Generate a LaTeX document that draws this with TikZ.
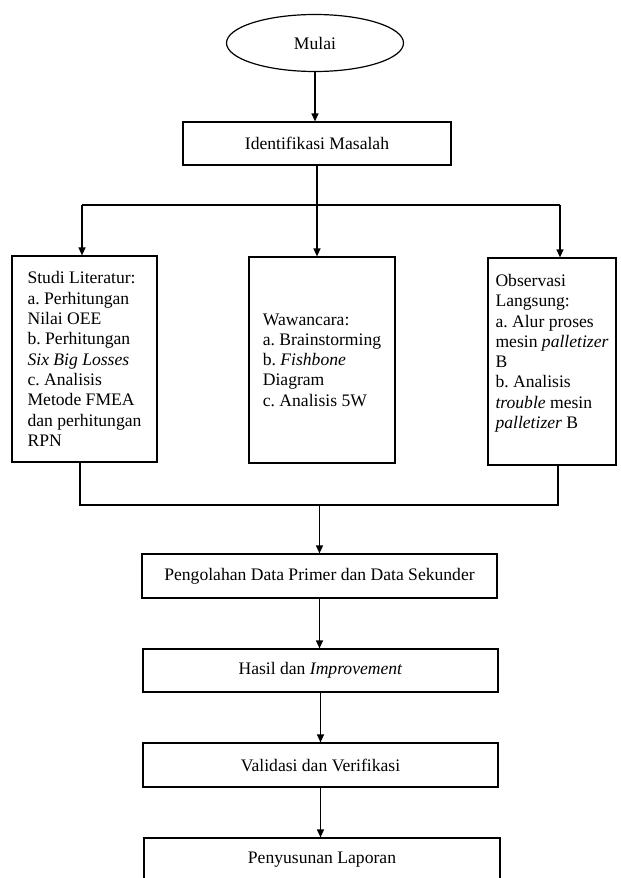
\documentclass[tikz,border=0pt]{standalone}
\usepackage{fontspec}
\setmainfont{Liberation Serif}
\usetikzlibrary{shapes,arrows.meta,positioning,calc}
\frenchspacing

\begin{document}
\begin{tikzpicture}[x=1pt, y=-1pt, line width=1.2pt,
  every node/.style={font=\fontsize{17.6}{20.3}\selectfont},
  box/.style={draw, fill=white, inner sep=0pt, align=center},
  colbox/.style={draw, fill=white, inner sep=0pt, align=left, minimum height=206pt},
  arr/.style={-{Triangle[length=8pt,width=7pt]}}]
  \useasboundingbox (0,0) rectangle (621,878);

  % Start
  \node[draw, ellipse, minimum width=177pt, minimum height=57pt, inner sep=0pt] (mulai) at (315,43) {Mulai};
  \node[box, minimum width=268pt, minimum height=43pt] (ident) at (317,143.5) {Identifikasi Masalah};

  % Level 1 - three columns
  \node[colbox, minimum width=145pt] (studi) at (84.5,359) {Studi Literatur:\\ a. Perhitungan\\ Nilai OEE\\ b. Perhitungan\\ \textit{Six Big Losses}\\ c. Analisis\\ Metode FMEA\\ dan perhitungan\\ RPN};
  \node[colbox, minimum width=146pt] (wawan) at (322,360) {Wawancara:\\ a. Brainstorming\\ b. \textit{Fishbone}\\ Diagram\\ c. Analisis 5W};
  \node[colbox, minimum width=128pt, minimum height=207pt] (obs) at (552,361.5) {Observasi\\ Langsung:\\ a. Alur proses\\ mesin \textit{palletizer}\\ B\\ b. Analisis\\ \textit{trouble} mesin\\ \textit{palletizer} B\\ \mbox{}};

  % Level 2 - processing
  \node[box, minimum width=355pt, minimum height=44pt] (olah) at (319.5,576) {Pengolahan Data Primer dan Data Sekunder};
  \node[box, minimum width=355pt, minimum height=43pt] (hasil) at (320.5,670.5) {Hasil dan \textit{Improvement}};
  \node[box, minimum width=355pt, minimum height=44pt] (valid) at (320.5,765) {Validasi dan Verifikasi};
  \node[box, minimum width=356pt, minimum height=44pt] (susun) at (322,860) {Penyusunan Laporan};

  % Connectors top
  \coordinate (bl) at (82,205);
  \coordinate (br) at (560,205);
  \draw[arr] (mulai.south) -- (mulai.south |- ident.north);
  \draw (ident.south) -- (ident.south |- bl);
  \draw (bl) -- (br);
  \draw[arr] (bl) -- (bl |- studi.north);
  \draw[arr] (ident.south |- bl) -- (ident.south |- wawan.north);
  \draw[arr] (br) -- (br |- obs.north);

  % Connectors bottom
  \coordinate (jl) at (80,505);
  \coordinate (jr) at (558,505);
  \draw (jl |- studi.south) -- (jl) -- (jr) -- (jr |- obs.south);
  \draw[arr] (olah.north |- jl) -- (olah.north);
  \draw[arr] (olah.south) -- (olah.south |- hasil.north);
  \draw[arr] (hasil.south) -- (hasil.south |- valid.north);
  \draw[arr] (valid.south) -- (valid.south |- susun.north);
\end{tikzpicture}
\end{document}
